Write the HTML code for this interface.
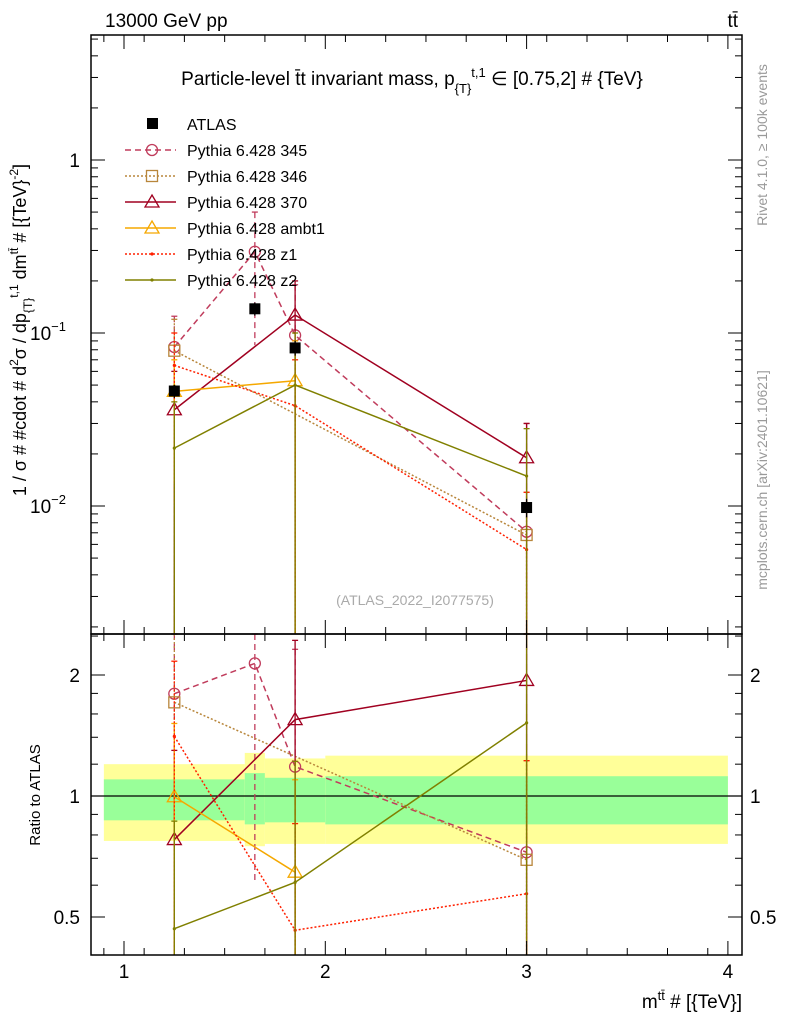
<!DOCTYPE html>
<html><head><meta charset="utf-8"><style>
html,body{margin:0;padding:0;background:#fff;overflow:hidden;width:786px;height:1024px;position:relative;}
svg{position:absolute;left:0;top:0;font-family:"Liberation Sans",sans-serif;overflow:hidden;}
</style></head><body>
<svg id="c" width="786" height="1024" viewBox="0 0 786 1024" xmlns="http://www.w3.org/2000/svg">
<text x="105" y="27" font-size="19">13000 GeV pp</text>
<text x="738" y="27" font-size="19" text-anchor="end">tt̄</text>
<text x="412" y="85" font-size="19" text-anchor="middle">Particle-level t̄t invariant mass, p<tspan font-size="13" dy="8">{T}</tspan><tspan font-size="13" dy="-16">t,1</tspan><tspan dy="8"> ∈ [0.75,2] # {TeV}</tspan></text>
<text transform="translate(767,145) rotate(-90)" font-size="14" fill="#999" text-anchor="middle">Rivet 4.1.0, ≥ 100k events</text>
<text transform="translate(767,480) rotate(-90)" font-size="14" fill="#999" text-anchor="middle">mcplots.cern.ch [arXiv:2401.10621]</text>
<text x="415" y="605" font-size="14" fill="#aaa" text-anchor="middle">(ATLAS_2022_I2077575)</text>
<text transform="translate(26,330) rotate(-90)" font-size="18" text-anchor="middle">1 / σ # #cdot # d<tspan font-size="12" dy="-8">2</tspan><tspan dy="8">σ / dp</tspan><tspan font-size="12" dy="6">{T}</tspan><tspan font-size="12" dy="-14">t,1</tspan><tspan dy="8"> dm</tspan><tspan font-size="12" dy="-8">tt̄</tspan><tspan dy="8"> # [{TeV}</tspan><tspan font-size="12" dy="-8">-2</tspan><tspan dy="8">]</tspan></text>
<text transform="translate(40,795) rotate(-90)" font-size="15" text-anchor="middle">Ratio to ATLAS</text>
<text x="742" y="1008" font-size="19" text-anchor="end">m<tspan font-size="13" dy="-8">tt̄</tspan><tspan dy="8"> # [{TeV}]</tspan></text>
<g id="main"></g>
</svg>
<script>
const xs = [1.25, 1.65, 1.85, 3];
const atlas = [0.0462, 0.138, 0.082, 0.0098];
const atlasErr = [0.004, 0.012, 0.008, 0.0012];
const bandEdges = [0.9, 1.6, 1.7, 2.0, 4.0];
const bandYellowUp = [1.20, 1.28, 1.24, 1.26];
const bandYellowDn = [0.773, 0.75, 0.76, 0.76];
const bandGreenUp = [1.10, 1.14, 1.11, 1.12];
const bandGreenDn = [0.87, 0.85, 0.86, 0.85];
const s345 = [0.083, 0.295, 0.097, 0.0071];
const s345Up = [0.125, 0.5, 0.19, 0.03];
const s345Dn = [1e-4, 0.085, 0.03, 1e-4];
const s346 = [0.079, null, null, 0.0068];
const s346Up = [0.12, null, null, 0.012];
const s346Dn = [1e-4, null, null, 1e-4];
const s370 = [0.036, null, 0.127, 0.019];
const s370Up = [0.06, null, 0.2, 0.03];
const s370Dn = [1e-4, null, 1e-4, 1e-4];
const sAmbt1 = [0.046, null, 0.053, null];
const sAmbt1Up = [0.07, null, 0.09, null];
const sAmbt1Dn = [0.0135, null, 1e-4, null];
const sZ1 = [0.065, null, 0.038, 0.0056];
const sZ1Up = [0.1, null, 0.07, 0.012];
const sZ1Dn = [0.0105, null, 1e-4, 1e-4];
const sZ2 = [0.0216, null, 0.050, 0.0149];
const sZ2Up = [0.04, null, 0.1, 0.028];
const sZ2Dn = [1e-4, null, 1e-4, 1e-4];
const xTicks = [1, 2, 3, 4];
const yMainTicks = [1, 0.1, 0.01];
const yMainLabels = ["1", "10", "10"];
const yMainExp = ["", "−1", "−2"];
const yRatioTicks = [2, 1, 0.5];
const yRatioLabels = ["2", "1", "0.5"];

const NS = "http://www.w3.org/2000/svg";
const root = document.getElementById('main');
const L = 91, R = 742, MT = 35, MB = 634, RT = 634, RB = 955;
const X = v => 124 + (v - 1) * 201.3;
const Y = v => Math.min(MB, Math.max(MT, 160 - Math.log10(v) * 173));
const YR = v => Math.min(RB, Math.max(RT, 796 - Math.log2(v) * 121));
function mk(tag, at, parent) {
  const e = document.createElementNS(NS, tag);
  for (const k in at) e.setAttribute(k, at[k]);
  (parent || root).appendChild(e);
  return e;
}

const bands = mk('g', {});


for (let i = 0; i < bandYellowUp.length; i++) {
  const x0 = X(bandEdges[i]), x1 = X(bandEdges[i + 1]);
  const y = mk('rect', {x: x0, y: YR(bandYellowUp[i]), width: x1 - x0, height: YR(bandYellowDn[i]) - YR(bandYellowUp[i]), fill: '#ffff99'}, bands);
  
  
  const g = mk('rect', {x: x0, y: YR(bandGreenUp[i]), width: x1 - x0, height: YR(bandGreenDn[i]) - YR(bandGreenUp[i]), fill: '#99ff99'}, bands);
  
  
}
const one = mk('line', {x1: L, x2: R, y1: YR(1), y2: YR(1), stroke: '#000', 'stroke-width': 1.3});



const series = [
  {name: 'pythia-345', label: 'Pythia 6.428 345', v: s345, up: s345Up, dn: s345Dn, c: '#c03c5c', dash: '6,4', m: 'circle'},
  {name: 'pythia-346', label: 'Pythia 6.428 346', v: s346, up: s346Up, dn: s346Dn, c: '#b8863b', dash: '2,2', m: 'square'},
  {name: 'pythia-370', label: 'Pythia 6.428 370', v: s370, up: s370Up, dn: s370Dn, c: '#a00020', dash: '', m: 'tri'},
  {name: 'pythia-ambt1', label: 'Pythia 6.428 ambt1', v: sAmbt1, up: sAmbt1Up, dn: sAmbt1Dn, c: '#f5a800', dash: '', m: 'tri'},
  {name: 'pythia-z1', label: 'Pythia 6.428 z1', v: sZ1, up: sZ1Up, dn: sZ1Dn, c: '#ff2000', dash: '2,2', m: 'dot'},
  {name: 'pythia-z2', label: 'Pythia 6.428 z2', v: sZ2, up: sZ2Up, dn: sZ2Dn, c: '#808000', dash: '', m: 'dot'}
];
function marker(g, m, x, y, c) {
  if (m === 'circle') mk('circle', {cx: x, cy: y, r: 5.5, fill: 'none', stroke: c, 'stroke-width': 1.3}, g);
  else if (m === 'square') mk('rect', {x: x - 5.5, y: y - 5.5, width: 11, height: 11, fill: 'none', stroke: c, 'stroke-width': 1.3}, g);
  else if (m === 'tri') mk('path', {d: `M${x},${y - 7}L${x + 7},${y + 5}L${x - 7},${y + 5}Z`, fill: 'none', stroke: c, 'stroke-width': 1.3}, g);
  else mk('circle', {cx: x, cy: y, r: 1.6, fill: c}, g);
}
function drawSeries(s, fy, ratio) {
  const g = mk('g', {});
  
  
  const pts = [];
  s.v.forEach((v, i) => {
    if (v == null) return;
    const d = ratio ? atlas[i] : 1;
    const x = X(xs[i]);
    mk('line', {x1: x, x2: x, y1: fy(s.up[i] / d), y2: fy(s.dn[i] / d), stroke: s.c, 'stroke-width': 1.3, 'stroke-dasharray': s.dash}, g);
    mk('line', {x1: x - 3, x2: x + 3, y1: fy(s.up[i] / d), y2: fy(s.up[i] / d), stroke: s.c, 'stroke-width': 1.3}, g);
    pts.push([x, fy(v / d)]);
  });
  mk('polyline', {points: pts.map(p => p.join(',')).join(' '), fill: 'none', stroke: s.c, 'stroke-width': 1.5, 'stroke-dasharray': s.dash}, g);
  pts.forEach(p => marker(g, s.m, p[0], p[1], s.c));
}
series.forEach(s => drawSeries(s, Y, false));
series.forEach(s => drawSeries(s, YR, true));

const ag = mk('g', {});


atlas.forEach((v, i) => {
  const x = X(xs[i]);
  mk('line', {x1: x, x2: x, y1: Y(v + atlasErr[i]), y2: Y(v - atlasErr[i]), stroke: '#000', 'stroke-width': 1.3}, ag);
  mk('rect', {x: x - 5.5, y: Y(v) - 5.5, width: 11, height: 11, fill: '#000'}, ag);
});

[[MT, MB], [RT, RB]].forEach(([t, b], pi) => {
  const f = mk('rect', {x: L, y: t, width: R - L, height: b - t, fill: 'none', stroke: '#000', 'stroke-width': 1.5});
  
  
  for (let v = 0.9; v <= 4.01; v += 0.2) {
    const x = X(v); if (x < L || x > R) continue;
    mk('line', {x1: x, x2: x, y1: t, y2: t + 7, stroke: '#000'});
    mk('line', {x1: x, x2: x, y1: b, y2: b - 7, stroke: '#000'});
  }
  xTicks.forEach(v => {
    mk('line', {x1: X(v), x2: X(v), y1: t, y2: t + 14, stroke: '#000'});
    mk('line', {x1: X(v), x2: X(v), y1: b, y2: b - 14, stroke: '#000'});
  });
});
xTicks.forEach(v => {
  const tx = mk('text', {x: X(v), y: 978, 'font-size': 19, 'text-anchor': 'middle'});
  tx.textContent = v;
  
  
});
for (let e = -3; e <= 0; e++) for (let k = 1; k <= 9; k++) {
  const v = k * Math.pow(10, e), yv = 160 - Math.log10(v) * 173;
  if (yv <= MT || yv >= MB) continue;
  const len = k === 1 ? 14 : 7;
  mk('line', {x1: L, x2: L + len, y1: yv, y2: yv, stroke: '#000'});
  mk('line', {x1: R, x2: R - len, y1: yv, y2: yv, stroke: '#000'});
}
yMainTicks.forEach((v, i) => {
  const tx = mk('text', {x: 80, y: Y(v) + 7, 'font-size': 19, 'text-anchor': 'end'});
  tx.textContent = yMainLabels[i];
  if (yMainExp[i]) { const ts = mk('tspan', {'font-size': 13, dy: -9}, tx); ts.textContent = yMainExp[i]; tx.setAttribute('x', 66); }
  
  
});
[0.4, 0.5, 0.6, 0.7, 0.8, 0.9, 1, 1.2, 1.4, 1.6, 1.8, 2, 2.5].forEach(v => {
  const y = 796 - Math.log2(v) * 121; if (y <= RT || y >= RB) return;
  const len = yRatioTicks.includes(v) ? 14 : 7;
  mk('line', {x1: L, x2: L + len, y1: y, y2: y, stroke: '#000'});
  mk('line', {x1: R, x2: R - len, y1: y, y2: y, stroke: '#000'});
});
yRatioTicks.forEach((v, i) => {
  const a = mk('text', {x: 80, y: YR(v) + 7, 'font-size': 19, 'text-anchor': 'end'});
  a.textContent = yRatioLabels[i];
  
  
  const b = mk('text', {x: 750, y: YR(v) + 7, 'font-size': 19});
  b.textContent = yRatioLabels[i];
  
  
});

const lg = mk('g', {});


const le0 = mk('g', {}, lg);


mk('rect', {x: 147, y: 118, width: 11, height: 11, fill: '#000'}, le0);
const t0 = mk('text', {x: 187, y: 130, 'font-size': 16}, le0); t0.textContent = 'ATLAS';
series.forEach((s, i) => {
  const y = 150 + i * 26;
  const e = mk('g', {}, lg);
  
  
  mk('line', {x1: 125, x2: 176, y1: y, y2: y, stroke: s.c, 'stroke-width': 1.5, 'stroke-dasharray': s.dash}, e);
  marker(e, s.m, 152, y, s.c);
  const t = mk('text', {x: 187, y: y + 6, 'font-size': 16}, e); t.textContent = s.label;
});
</script>
</body></html>
